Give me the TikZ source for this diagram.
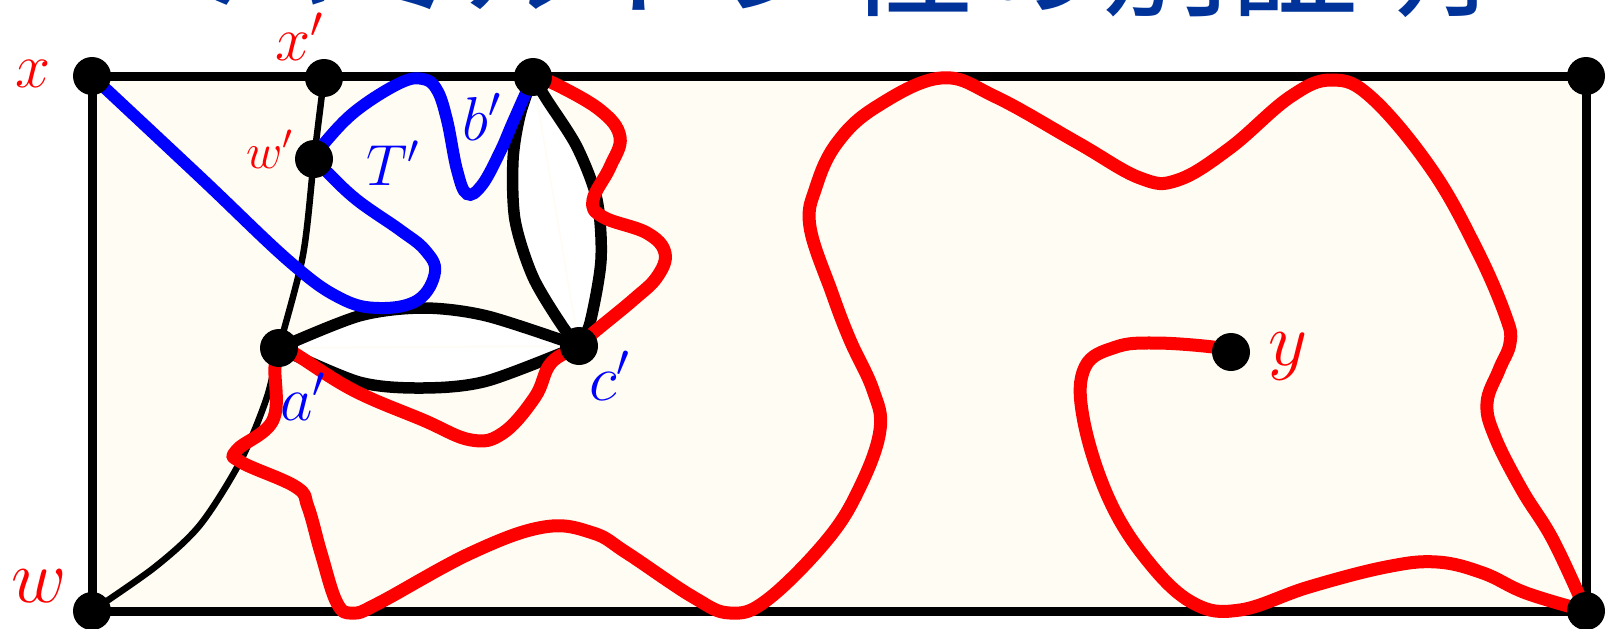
\RequirePackage{fix-cm}
\documentclass[tikz,border=0pt]{standalone}
\usepackage{fontspec}
\newfontfamily\jpfont{Noto Sans CJK JP}
\definecolor{cream}{RGB}{255,252,243}
\definecolor{titleblue}{RGB}{0,51,153}

\begin{document}
\begin{tikzpicture}
[
	x=1pt, y=-1pt,
	vtx/.style={circle,fill,inner sep=0pt,minimum size=38pt},
	redpath/.style={red,line width=13pt,line cap=round,line join=round},
	bluepath/.style={blue,line width=12pt,line cap=round},
	lens/.style={black,line width=11.5pt},
	thinpath/.style={black,line width=6.5pt},
	redlbl/.style={red,anchor=base west,inner sep=0pt},
	bluelbl/.style={blue,anchor=base west,inner sep=0pt}
]
	\useasboundingbox (0,0) rectangle (1606,629);

	% title, cut off at the top
	\node[titleblue,anchor=base west,inner sep=0pt,font=\jpfont\fontsize{128}{130}\selectfont] (title) at (206,6) {ハミルトン性の別証明};

	% vertices
	\coordinate (x) at (92,76);
	\coordinate (xp) at (324,78);
	\coordinate (bp) at (533,77);
	\coordinate (tr) at (1586,76);
	\coordinate (wp) at (314,159);
	\coordinate (ap) at (279,348);
	\coordinate (cp) at (579,346);
	\coordinate (y) at (1231,352);
	\coordinate (w) at (92,611);
	\coordinate (br) at (1586,611);

	% frame
	\fill[cream] (x) rectangle (br);
	\draw[line width=9pt] (x) rectangle (br);

	% lenses
	\fill[white] plot[smooth] coordinates {(ap) (359,316) (423,308) (487,316) (cp)}
		-- plot[smooth] coordinates {(cp) (487,381) (423,388) (359,382) (ap)} -- cycle;
	\fill[white] plot[smooth] coordinates {(bp) (520,115) (513,160) (515,220) (533,277) (563,327) (cp)}
		-- plot[smooth] coordinates {(cp) (590,323) (601,260) (597,200) (577,147) (547,100) (bp)} -- cycle;
	\draw[cream,line width=1.5pt] (ap) -- (cp) (bp) -- (cp);

	% path x' w' a' w
	\draw[thinpath] plot[smooth] coordinates {(xp) (wp) (303,255) (ap) (266,400) (240,462) (200,525) (155,567) (w)};

	\draw[lens] plot[smooth] coordinates {(ap) (359,316) (423,308) (487,316) (cp)};
	\draw[lens] plot[smooth] coordinates {(ap) (359,382) (423,388) (487,381) (cp)};
	\draw[lens] plot[smooth] coordinates {(bp) (520,115) (513,160) (515,220) (533,277) (563,327) (cp)};
	\draw[lens] plot[smooth] coordinates {(bp) (547,100) (577,147) (597,200) (601,260) (590,323) (cp)};

	% tree T'
	\draw[bluepath] plot[smooth,tension=0.65] coordinates {(x) (200,177) (290,262) (340,298) (379,308) (418,300) (435,272) (425,250) (400,230) (357,200) (327,172) (wp)};
	\draw[bluepath] plot[smooth,tension=0.65] coordinates {(wp) (327,140) (357,110) (400,83) (423,79) (437,90) (447,120) (457,170) (467,194) (482,185) (500,152) (513,122) (bp)};

	% red path
	\draw[redpath] plot[smooth,tension=0.65] coordinates {(bp) (553,83) (600,110) (620,137) (610,167) (593,200) (603,217) (647,233) (665,253) (657,277) (633,300) (593,333) (cp) (551,363) (535,397) (503,433) (471,440) (423,420) (353,390) (292,352) (ap)};
	\draw[redpath] plot[smooth,tension=0.65] coordinates {(ap) (275,367) (273,420) (237,450) (241,462) (296,487) (308,507) (321,553) (337,603) (353,613) (379,603) (471,553) (544,527) (593,533) (627,553) (693,597) (730,613) (767,600) (827,540) (860,487) (880,430) (873,390) (850,340) (832,293) (810,227) (816,187) (837,143) (876,107) (941,78) (996,97) (1078,143) (1140,178) (1178,180) (1230,148) (1290,97) (1332,80) (1372,98) (1432,170) (1477,250) (1506,317) (1510,343) (1499,370) (1487,403) (1495,437) (1522,490) (1553,540) (br)};
	\draw[redpath] plot[smooth,tension=0.65] coordinates {(br) (1526,593) (1483,573) (1437,562) (1386,567) (1309,587) (1240,610) (1193,603) (1147,560) (1108,497) (1083,417) (1085,367) (1116,347) (1155,343) (1213,347) (y)};

	% dots
	\foreach \v in {x,xp,bp,tr,wp,ap,cp,y,w,br}
		\node[vtx] (dot-\v) at (\v) {};

	% labels
	\node[redlbl,font=\fontsize{63}{70}\selectfont] (lx) at (15,87) {$x$};
	\node[redlbl,font=\fontsize{63}{70}\selectfont] (lxp) at (275,60) {$x'$};
	\node[redlbl,font=\fontsize{50}{56}\selectfont] (lwp) at (246,168) {$w'$};
	\node[redlbl,font=\fontsize{76}{84}\selectfont] (lw) at (11,602) {$w$};
	\node[redlbl,font=\fontsize{76}{84}\selectfont] (ly) at (1268,365) {$y$};
	\node[bluelbl,font=\fontsize{58}{64}\selectfont] (lT) at (366,185) {$T'$};
	\node[bluelbl,font=\fontsize{62}{68}\selectfont] (lb) at (462,140) {$b'$};
	\node[bluelbl,font=\fontsize{63}{70}\selectfont] (la) at (280,420) {$a'$};
	\node[bluelbl,font=\fontsize{65}{72}\selectfont] (lc) at (589,400) {$c'$};

\end{tikzpicture}
\end{document}
